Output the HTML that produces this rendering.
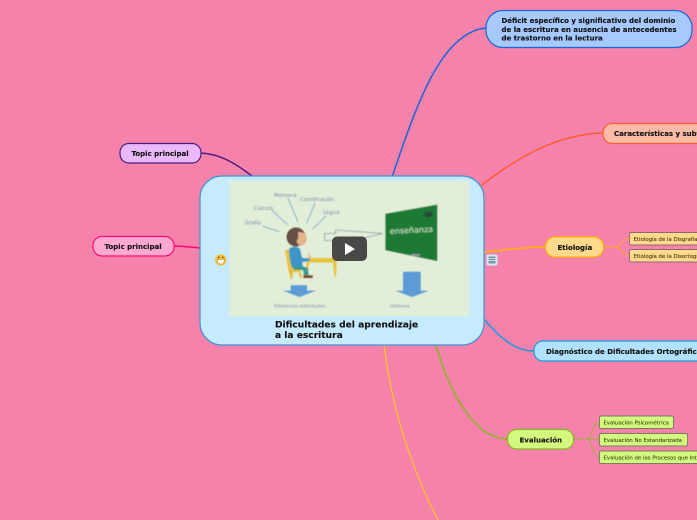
<!DOCTYPE html>
<html><head><meta charset="utf-8"><style>
html,body{margin:0;padding:0;background:#f582aa;width:697px;height:520px;overflow:hidden}
svg{display:block}
text{font-family:"DejaVu Sans",sans-serif;font-weight:700;fill:#111}
.n{stroke:#111;stroke-width:.12px}
.s{font-size:5.4px;font-weight:400;stroke-width:.12px}
.l{font-weight:400;fill:#7389ad}
</style></head><body>
<svg width="697" height="520" viewBox="0 0 697 520" xmlns="http://www.w3.org/2000/svg">
<defs>
<filter id="b" x="-5%" y="-5%" width="110%" height="110%"><feGaussianBlur stdDeviation="0.4"/></filter>
</defs>
<rect width="697" height="520" fill="#f582aa"/>
<g fill="none" stroke-linecap="round">
<path d="M392 177C415 110 440 32 486 28" stroke="#1a66d9" stroke-width="1.5"/>
<path d="M482 185C520 155 560 134 603 133" stroke="#ff5a30" stroke-width="1.5"/>
<path d="M484 252C505 250 525 247 545 247" stroke="#ffb300" stroke-width="1.5"/>
<path d="M484 319C500 338 515 351 534 351" stroke="#1a9be0" stroke-width="1.5"/>
<path d="M436 345C450 395 475 438 507 439" stroke="#85b81f" stroke-width="1.5"/>
<path d="M384 345C392 410 412 470 438 520" stroke="#ffc61a" stroke-width="1.2"/>
<path d="M252 176C235 163 220 154 201 153" stroke="#4a1a80" stroke-width="1.5"/>
<path d="M200 248C190 247 182 246 174 246" stroke="#ff0a70" stroke-width="1.5"/>
<path d="M603 247H616M616 247C621 247 622 238 629 238M616 247C621 247 622 256 629 256" stroke="#ffb300" stroke-width=".7"/>
<path d="M573 439H587M587 439C592 439 592 422 599 422M587 439H599M587 439C592 439 592 457 599 457" stroke="#85b81f" stroke-width=".7"/>
</g>

<rect x="200" y="176" width="284" height="169" rx="22" fill="#c6ebff" stroke="#3f93d6" stroke-width="1.2"/>
<rect x="229.500" y="181" width="240" height="135" fill="#e3eed9"/>

<g filter="url(#b)">
<text class="l" x="274" y="197" font-size="5.200">Memoria</text>
<text class="l" x="300" y="201" font-size="5.200">Coordinación</text>
<text class="l" x="254" y="210" font-size="5.200">Calculo</text>
<text class="l" x="323" y="214" font-size="5.200">Lógica</text>
<text class="l" x="245" y="224.500" font-size="5.200">Grafía</text>
<g stroke="#6f9fc6" stroke-width=".8" fill="none">
<path d="M288 198L298 222M315 203L306.700 223M271.700 210L288 225M326 216L312.700 229M262.700 226L279 231.700"/>
</g>
<path d="M324.500 233.500L335.700 233.500L335.700 230L382.500 233.500L352 241L332 240.500L324.500 240.500Z" fill="none" stroke="#8d9aa8" stroke-width=".8"/>
<!-- chair -->
<path d="M285 250L289.500 250L292 268L300 268L302 278L300 278L298.500 272L293 272L292.500 279L290.500 279L288 268Z" fill="#e8c23d"/>
<!-- table -->
<path d="M306.500 258L336.700 258L336.700 262L336 276.500L334.500 276.500L333 262.500L309 262.500L307.500 278L306 278Z" fill="#e8c23d"/>
<!-- boy -->
<path d="M289 249C292 246 298 246 300 249L302 258L310 258.500L310 261L302 262L303 267L292 268C290 262 289 255 289 249Z" fill="#3c95c9"/>
<path d="M293 266.500L303 266.500L308 268L308.500 275L304 275L303 270L294 270Z" fill="#3c9a90"/>
<path d="M303.500 275L313 275.500L312.500 278L303.500 278Z" fill="#7a4a28"/>
<circle cx="296" cy="237" r="9.500" fill="#665044"/>
<path d="M298 232C302 232 306 233 306.500 237C307 240 306 244 302 245.500C299 246 296 243 297 240C299 238 298 235 298 232Z" fill="#e5b48c"/>
<path d="M308 258L311 258L309 251Z" fill="#e5b48c"/>
<!-- board -->
<path d="M385.700 214L437 205L437 260.700L385.700 250Z" fill="#1f7a34" stroke="#4c7a4e" stroke-width=".6"/>
<text x="390" y="234" font-size="8" transform="rotate(-3 390 234)" style="fill:#cfe6cf;font-weight:400">enseñanza</text>
<ellipse cx="428.500" cy="214.500" rx="4.500" ry="3" fill="#2c4a3a"/>
<rect x="411" y="254" width="9" height="2" fill="#8d9aa8"/>
<!-- arrows -->
<path d="M290.700 285.300H307V290.600H316L299.500 297L283 290.600H290.700Z" fill="#5b9bd5"/>
<path d="M403 271.700H420.700V290.700H428.700L412 297L395.700 290.700H403Z" fill="#5b9bd5"/>
<text class="l" x="274" y="307.500" font-size="4.300">Diferencias individuales</text>
<text class="l" x="390" y="307.500" font-size="4.300">Uniforma</text>
</g>
<rect x="332" y="236.500" width="35" height="24.500" rx="5" fill="#3f3f3f" opacity=".95"/>
<path d="M345 243L345 255L355 249Z" fill="#fff"/>

<text class="n" x="275" y="327.500" font-size="9.100">Dificultades del aprendizaje</text>
<text class="n" x="275" y="338" font-size="9.100">a la escritura</text>

<circle cx="220.800" cy="260" r="5.600" fill="#f9bf2c"/>
<path d="M217.300 259.500H224.300C224.300 263 222.600 264 220.800 264C219 264 217.300 263 217.300 259.500Z" fill="#fff" stroke="#7a5a30" stroke-width=".35"/>
<circle cx="218.800" cy="257.300" r=".8" fill="#5a3c1a"/><circle cx="222.800" cy="257.300" r=".8" fill="#5a3c1a"/>

<rect x="486.500" y="254.500" width="11" height="11" rx="1.500" fill="#cfe9fb"/>
<rect x="488.500" y="256.500" width="7" height="7" fill="#7c97a8"/>
<path d="M488.500 258.500H495.500M488.500 260.500H495.500" stroke="#dbe9f0" stroke-width=".7"/>

<rect x="486" y="10.500" width="206" height="37" rx="17" fill="#a6c9ff" stroke="#1a66d9" stroke-width="1.200"/>
<text class="n" x="501.500" y="23" font-size="7">Déficit específico y significativo del dominio</text>
<text class="n" x="501.500" y="32" font-size="7">de la escritura en ausencia de antecedentes</text>
<text class="n" x="501.500" y="40.500" font-size="7">de trastorno en la lectura</text>

<rect x="603" y="123.500" width="130" height="20" rx="9" fill="#fbbaa6" stroke="#ff5a30" stroke-width="1.200"/>
<text class="n" x="614" y="136" font-size="7">Características y subtipos</text>

<rect x="545.500" y="237" width="58" height="20" rx="9.500" fill="#ffd98c" stroke="#ffb300" stroke-width="1.200"/>
<text class="n" x="557.500" y="250" font-size="7">Etiología</text>

<rect x="629.500" y="232.500" width="90" height="12.500" rx="1.500" fill="#ffd98c" stroke="#8a6a70" stroke-width=".9"/>
<text class="s" x="633.500" y="241" style="fill:#4a3a10;stroke:#4a3a10">Etiología de la Disgrafía</text>
<rect x="629.500" y="249.500" width="90" height="12.500" rx="1.500" fill="#ffd98c" stroke="#8a6a70" stroke-width=".9"/>
<text class="s" x="633.500" y="258" style="fill:#4a3a10;stroke:#4a3a10">Etiología de la Disortografía</text>

<rect x="534" y="341" width="200" height="20" rx="9" fill="#b0e2ff" stroke="#1a9be0" stroke-width="1.200"/>
<text class="n" x="546" y="354" font-size="7">Diagnóstico de Dificultades Ortográficas</text>

<rect x="507.500" y="429.500" width="66" height="19.500" rx="9" fill="#d4f97f" stroke="#85b81f" stroke-width="1.200"/>
<text class="n" x="519.500" y="442.500" font-size="7">Evaluación</text>

<rect x="599.500" y="416" width="74" height="12.500" rx="1.500" fill="#d4f97f" stroke="#7a7a60" stroke-width=".9"/>
<text class="s" x="603.500" y="424.500" style="fill:#3a4a10;stroke:#3a4a10">Evaluación Psicométrica</text>
<rect x="599.500" y="433.500" width="88" height="12.500" rx="1.500" fill="#d4f97f" stroke="#7a7a60" stroke-width=".9"/>
<text class="s" x="603.500" y="442" style="fill:#3a4a10;stroke:#3a4a10">Evaluación No Estandarizada</text>
<rect x="599.500" y="451" width="130" height="12.500" rx="1.500" fill="#d4f97f" stroke="#7a7a60" stroke-width=".9"/>
<text class="s" x="603.500" y="459.500" style="fill:#3a4a10;stroke:#3a4a10">Evaluación de los Procesos que Intervienen</text>

<rect x="120" y="143.500" width="81" height="19.500" rx="9" fill="#e9b9fb" stroke="#4a1a80" stroke-width="1.200"/>
<text class="n" x="131.500" y="156" font-size="7">Topic principal</text>
<rect x="93" y="236.500" width="81" height="19.500" rx="9" fill="#ffa8d0" stroke="#ff0a70" stroke-width="1.200"/>
<text class="n" x="104.500" y="249" font-size="7">Topic principal</text>
</svg>
</body></html>
